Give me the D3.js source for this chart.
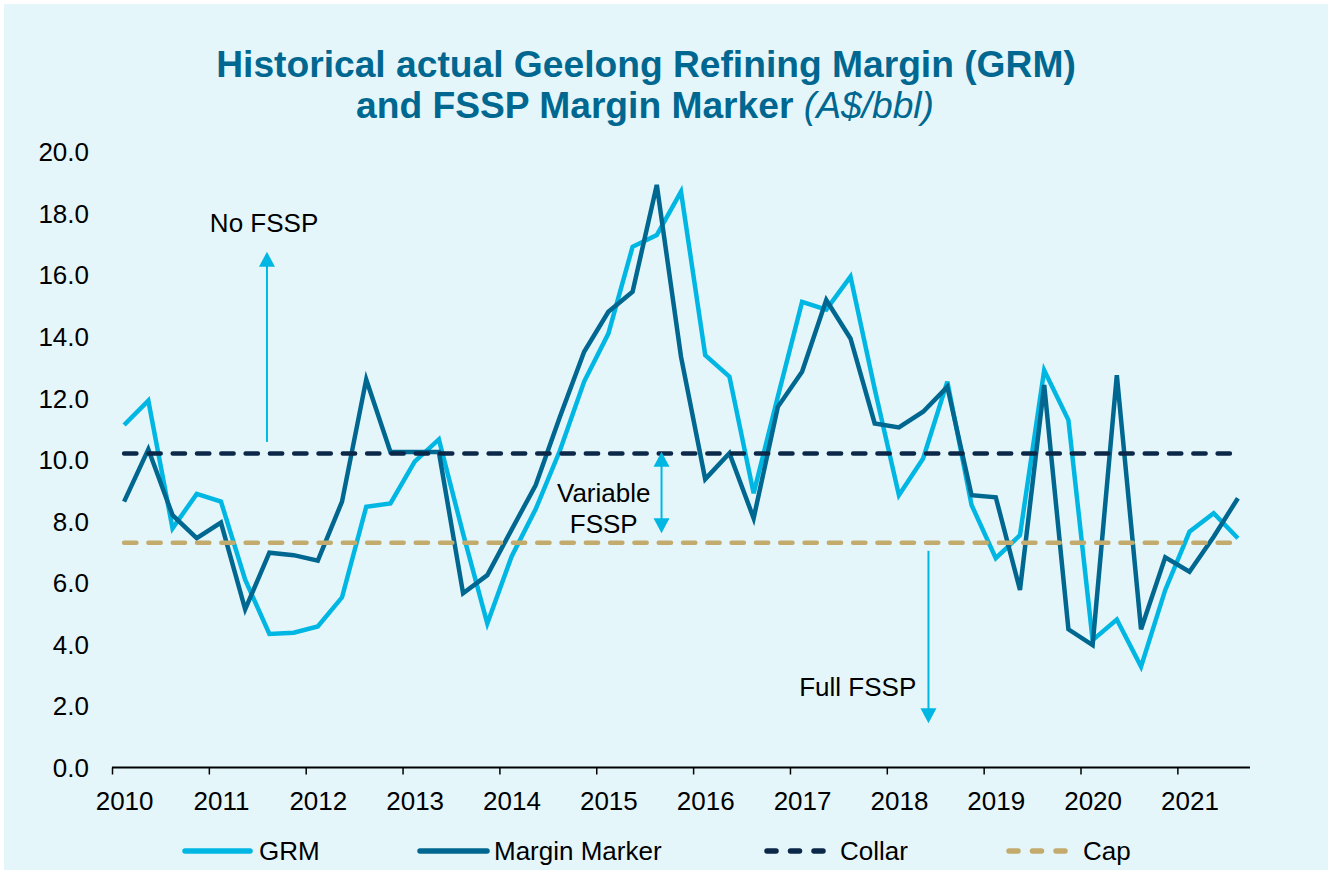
<!DOCTYPE html>
<html>
<head>
<meta charset="utf-8">
<script src="https://cdn.jsdelivr.net/npm/d3@7"></script>
<style>
  html, body { margin: 0; padding: 0; background: #ffffff; }
  svg { display: block; font-family: "Liberation Sans", Arial, sans-serif; }
</style>
</head>
<body>
<svg id="chart" width="1332" height="874"></svg>
<script>
// Quarterly periods, Q1 2010 to Q3 2021
const quarters = [
  "2010Q1","2010Q2","2010Q3","2010Q4",
  "2011Q1","2011Q2","2011Q3","2011Q4",
  "2012Q1","2012Q2","2012Q3","2012Q4",
  "2013Q1","2013Q2","2013Q3","2013Q4",
  "2014Q1","2014Q2","2014Q3","2014Q4",
  "2015Q1","2015Q2","2015Q3","2015Q4",
  "2016Q1","2016Q2","2016Q3","2016Q4",
  "2017Q1","2017Q2","2017Q3","2017Q4",
  "2018Q1","2018Q2","2018Q3","2018Q4",
  "2019Q1","2019Q2","2019Q3","2019Q4",
  "2020Q1","2020Q2","2020Q3","2020Q4",
  "2021Q1","2021Q2","2021Q3"
];

// Geelong Refining Margin, A$/bbl
const grm = [
  11.13, 11.92, 7.77, 8.89,
  8.64, 6.10, 4.34, 4.38,
  4.58, 5.53, 8.47, 8.58,
  9.94, 10.66, 7.60, 4.68,
  6.85, 8.40, 10.30, 12.54,
  14.10, 16.92, 17.30, 18.71,
  13.40, 12.70, 8.91, 12.05,
  15.13, 14.88, 15.95, 12.30,
  8.85, 10.04, 12.54, 8.53,
  6.80, 7.55, 12.91, 11.29,
  4.14, 4.81, 3.28, 5.77,
  7.66, 8.26, 7.45
];

// FSSP Margin Marker, A$/bbl
const marginMarker = [
  8.64, 10.34, 8.20, 7.45,
  7.96, 5.14, 6.98, 6.90,
  6.72, 8.64, 12.61, 10.25,
  10.25, 10.25, 5.66, 6.25,
  7.72, 9.18, 11.40, 13.51,
  14.81, 15.46, 18.93, 13.35,
  9.37, 10.21, 8.10, 11.72,
  12.86, 15.19, 13.94, 11.18,
  11.05, 11.56, 12.37, 8.85,
  8.78, 5.77, 12.43, 4.49,
  3.98, 12.75, 4.49, 6.83,
  6.36, 7.50, 8.75
];

// FSSP thresholds, A$/bbl
const collarLevel = 10.2;
const capLevel = 7.3;

// Axis labels
const yearTicks = [2010, 2011, 2012, 2013, 2014, 2015, 2016, 2017, 2018, 2019, 2020, 2021];
const valueTicks = [0, 2, 4, 6, 8, 10, 12, 14, 16, 18, 20];

const seriesNames = ["GRM", "Margin Marker", "Collar", "Cap"];

// ---- styling ----
const C = {
  grm: "#00b7e3",
  mm: "#006890",
  collar: "#0b2848",
  cap: "#c3ab6d",
  title: "#006890",
  panel: "#e5f6fb"
};

const svg = d3.select("#chart");

// panel background
svg.append("rect")
  .attr("x", 4).attr("y", 4)
  .attr("width", 1324).attr("height", 866)
  .attr("fill", C.panel);

// quarter label -> fractional year at mid-quarter
const qTime = q => +q.slice(0, 4) + (+q.slice(5) - 1) / 4 + 0.125;

const x = d3.scaleLinear().domain([2010, 2021.75]).range([112, 1250]);
const y = d3.scaleLinear().domain([0, 20]).range([767.5, 152]);

// ---- title ----
const title = svg.append("text")
  .attr("text-anchor", "middle")
  .attr("fill", C.title)
  .style("font-size", "37.2px");
title.append("tspan")
  .attr("x", 646).attr("y", 77)
  .attr("font-weight", "bold")
  .text("Historical actual Geelong Refining Margin (GRM)");
title.append("tspan")
  .attr("x", 645).attr("y", 118)
  .attr("font-weight", "bold")
  .text("and FSSP Margin Marker ")
  .append("tspan")
  .attr("font-weight", "normal")
  .attr("font-style", "italic")
  .text("(A$/bbl)");

// ---- y axis (labels only) ----
const yAxis = d3.axisLeft(y)
  .tickValues(valueTicks)
  .tickFormat(d3.format(".1f"))
  .tickSize(0)
  .tickPadding(0);
const yG = svg.append("g")
  .attr("transform", "translate(89,0)")
  .call(yAxis);
yG.select(".domain").remove();
yG.selectAll("text")
  .attr("fill", "#000")
  .attr("dy", "0.34em")
  .style("font-size", "26px")
  .style("font-family", "'Liberation Sans', Arial, sans-serif");

// ---- x axis ----
const xAxis = d3.axisBottom(x)
  .tickValues(yearTicks)
  .tickFormat(d3.format("d"))
  .tickSizeInner(7)
  .tickSizeOuter(0);
const xG = svg.append("g")
  .attr("transform", `translate(0,${y(0)})`)
  .call(xAxis);
xG.select(".domain").attr("stroke", "#000").attr("stroke-width", 2)
  .attr("d", `M${x(2010)},0H${x(2021.75)}`);
xG.selectAll(".tick line").attr("stroke", "#000").attr("stroke-width", 1.5);
xG.selectAll(".tick text")
  .attr("fill", "#000")
  .attr("x", x(2010.125) - x(2010))
  .attr("y", 24)
  .attr("dy", "0.71em")
  .style("font-size", "26px")
  .style("font-family", "'Liberation Sans', Arial, sans-serif");

// ---- series ----
const plot = svg.append("g");
const line = d3.line()
  .x(d => x(qTime(d.q)))
  .y(d => y(d.v));

const rows = (vals) => quarters.map((q, i) => ({ q, v: vals[i] }));

plot.append("path")
  .datum(rows(grm))
  .attr("d", line)
  .attr("fill", "none")
  .attr("stroke", C.grm)
  .attr("stroke-width", 4.5)
  .attr("stroke-linejoin", "miter");

plot.append("path")
  .datum(rows(marginMarker))
  .attr("d", line)
  .attr("fill", "none")
  .attr("stroke", C.mm)
  .attr("stroke-width", 4.5)
  .attr("stroke-linejoin", "miter");

const first = quarters[0], last = quarters[quarters.length - 1];
[[collarLevel, C.collar], [capLevel, C.cap]].forEach(([lvl, col]) => {
  plot.append("path")
    .datum([{ q: first, v: lvl }, { q: last, v: lvl }])
    .attr("d", line)
    .attr("fill", "none")
    .attr("stroke", col)
    .attr("stroke-width", 4.5)
    .attr("stroke-linecap", "round")
    .attr("stroke-dasharray", "12.3,12");
});

// ---- annotations ----
const ann = svg.append("g");
function arrowHead(xp, yp, dir) {
  // dir = -1 pointing up, +1 pointing down
  const L = 15, W = 8;
  ann.append("path")
    .attr("d", `M${xp},${yp}L${xp - W},${yp - dir * L}L${xp + W},${yp - dir * L}Z`)
    .attr("fill", C.grm);
}
function vArrow(t, v0, v1, heads) {
  const xp = x(t);
  const dir0 = v1 > v0 ? -1 : 1;
  const y0 = y(v0), y1 = y(v1);
  const inset1 = 14 * dir0;
  ann.append("line")
    .attr("x1", xp).attr("x2", xp)
    .attr("y1", heads === 2 ? y0 + inset1 : y0)
    .attr("y2", y1 - inset1)
    .attr("stroke", C.grm).attr("stroke-width", 2);
  arrowHead(xp, y1, dir0);
  if (heads === 2) arrowHead(xp, y0, -dir0);
}
vArrow(2011.6, 10.58, 16.76, 1);
vArrow(2015.674, 7.61, 10.26, 2);
vArrow(2018.43, 7.04, 1.44, 1);

const annText = (t, v, s) => ann.append("text")
  .attr("x", x(t)).attr("y", y(v))
  .attr("text-anchor", "middle")
  .attr("fill", "#000")
  .style("font-size", "26px")
  .text(s);
annText(2011.57, 17.4, "No FSSP");
annText(2015.077, 8.64, "Variable");
annText(2015.077, 7.63, "FSSP");
annText(2017.70, 2.33, "Full FSSP");

// ---- legend ----
const legendLayout = [
  { x0: 185, x1: 250, tx: 259 },
  { x0: 420, x1: 487, tx: 494 },
  { x0: 767, x1: 828, tx: 840 },
  { x0: 1009, x1: 1070, tx: 1083 }
];
const legendStyle = [
  { col: C.grm, dash: null },
  { col: C.mm, dash: null },
  { col: C.collar, dash: "9,14.5" },
  { col: C.cap, dash: "9,14.5" }
];
const lg = svg.append("g");
seriesNames.forEach((name, i) => {
  const L = legendLayout[i], S = legendStyle[i];
  lg.append("line")
    .attr("x1", L.x0).attr("x2", L.x1)
    .attr("y1", 851).attr("y2", 851)
    .attr("stroke", S.col)
    .attr("stroke-width", 5.5)
    .attr("stroke-linecap", "round")
    .attr("stroke-dasharray", S.dash);
  lg.append("text")
    .attr("x", L.tx).attr("y", 860)
    .attr("fill", "#000")
    .style("font-size", "26px")
    .text(name);
});
</script>
</body>
</html>
